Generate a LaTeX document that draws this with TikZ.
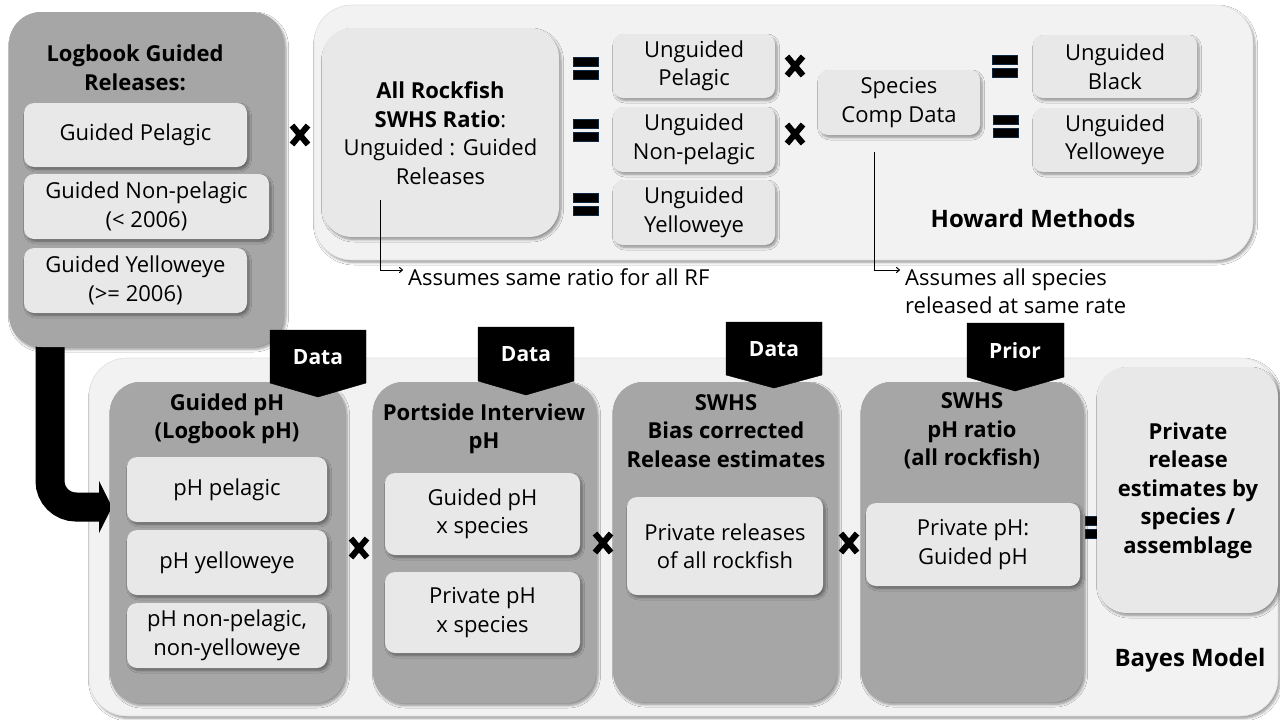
\documentclass[tikz,border=0pt]{standalone}
\usepackage{fontspec}
\setmainfont{Open Sans}
\usetikzlibrary{arrows.meta,shadows.blur}
\definecolor{darkpanel}{HTML}{A6A6A6}
\definecolor{lightpanel}{HTML}{F2F2F2}
\definecolor{lightbox}{HTML}{E8E8E8}
\definecolor{navyedge}{HTML}{0E2841}
\tikzset{
  x=1pt, y=-1pt,
  shd/.style={blur shadow={shadow xshift=2pt, shadow yshift=-2.5pt, shadow blur steps=6, shadow opacity=40, shadow blur radius=2.5pt}},
  panel/.style={fill=lightpanel, draw=black!12, line width=0.6pt, rounded corners=38pt, shd},
  dpanel/.style={fill=darkpanel, rounded corners=32pt, shd},
  lbox/.style={fill=lightbox, rounded corners=10pt, shd, align=center, inner sep=0pt, font=\txt},
  bigbox/.style={fill=lightbox, rounded corners=30pt, shd, align=center, inner sep=0pt},
  ttl/.style={align=center, inner sep=0pt, font=\bfseries\ttltxt},
  note/.style={align=left, inner sep=0pt, anchor=west, font=\txt},
  tab/.style={fill=black, draw=black},
  tabtxt/.style={text=white, font=\bfseries\tabfont, inner sep=0pt},
  conn/.style={draw=black, line width=1pt, -{To[length=4pt,width=6pt]}},
  bigarrow/.style={draw=black, line width=29pt, rounded corners=26pt, -{Triangle[width=52pt,length=13pt]}},
}
\newcommand{\txt}{\fontsize{22}{28.5}\selectfont}
\newcommand{\ttltxt}{\fontsize{22}{28.5}\selectfont}
\newcommand{\tabfont}{\fontsize{21}{28.5}\selectfont}
\newcommand{\lbltxt}{\fontsize{24}{28.5}\selectfont}
\newcommand{\timesmark}[2]{%
  \node[inner sep=0pt, minimum size=20pt] (#2) at (#1) {};
  \draw[line width=6pt, line cap=butt] ([shift={(-8pt,-9.5pt)}]#2.center) -- ([shift={(8pt,9.5pt)}]#2.center);
  \draw[line width=6pt, line cap=butt] ([shift={(-8pt,9.5pt)}]#2.center) -- ([shift={(8pt,-9.5pt)}]#2.center);}
\newcommand{\eqmark}[2]{%
  \node[inner sep=0pt, minimum width=26pt, minimum height=23pt] (#2) at (#1) {};
  \filldraw[fill=black, draw=navyedge, line width=1pt] ([shift={(-12.5pt,-11pt)}]#2.center) rectangle ([shift={(12.5pt,-2pt)}]#2.center);
  \filldraw[fill=black, draw=navyedge, line width=1pt] ([shift={(-12.5pt,2pt)}]#2.center) rectangle ([shift={(12.5pt,11pt)}]#2.center);}
\begin{document}
\begin{tikzpicture}
\useasboundingbox[fill=white] (0,0) rectangle (1280,720);

% ---------- Howard panel ----------
\node[panel, minimum width=939pt, minimum height=255pt] (howard) at (783.5,132.5) {};
\node[font=\bfseries\lbltxt, inner sep=0pt] (howardlbl) at (1033,218) {Howard Methods};

% ---------- Bayes panel ----------
\node[panel, minimum width=1189pt, minimum height=358pt] (bayes) at (683.5,537) {};
\node[font=\bfseries\lbltxt, inner sep=0pt] (bayeslbl) at (1190,660) {Bayes Model};

% ---------- big elbow arrow ----------
\coordinate (a0) at (50,320);
\coordinate (a1) at (112,507);
\draw[bigarrow] (a0) |- (a1);

% ---------- Logbook panel ----------
\node[dpanel, minimum width=275pt, minimum height=335pt] (logbook) at (146.5,179.5) {};
\node[ttl] (logttl) at (135,68) {Logbook Guided\\Releases:};
\node[lbox, minimum width=223pt, minimum height=64pt] (gpel) at (135.5,135) {Guided Pelagic};
\node[lbox, minimum width=245pt, minimum height=65pt] (gnonpel) at (146.5,206.5) {Guided Non-pelagic\\(< 2006)};
\node[lbox, minimum width=223pt, minimum height=65pt] (gye) at (135.5,280.5) {Guided Yelloweye\\(>= 2006)};
\timesmark{300,135}{x0}

% ---------- Howard contents ----------
\node[bigbox, minimum width=237pt, minimum height=209pt] (rock) at (440.5,132.5) {};
\node[align=center, inner sep=0pt, font=\txt] (rocktxt) at (440.5,133) {\textbf{All Rockfish}\\\textbf{SWHS Ratio}:\\Unguided : Guided\\Releases};
\eqmark{586,68}{e1}
\eqmark{586,130}{e2}
\eqmark{586,204}{e3}
\node[lbox, minimum width=162pt, minimum height=64pt] (upel) at (694,66) {Unguided\\Pelagic};
\node[lbox, minimum width=162pt, minimum height=65pt] (unonpel) at (694,139.5) {Unguided\\Non-pelagic};
\node[lbox, minimum width=162pt, minimum height=65pt] (uye) at (694,212.5) {Unguided\\Yelloweye};
\timesmark{795,66}{x1}
\timesmark{795,134}{x2}
\node[lbox, minimum width=162pt, minimum height=65pt] (spcomp) at (899,102.5) {Species\\Comp Data};
\eqmark{1005,66}{e4}
\eqmark{1006,126}{e5}
\node[lbox, minimum width=164pt, minimum height=63pt] (ublack) at (1115,66.5) {Unguided\\Black};
\node[lbox, minimum width=164pt, minimum height=64pt] (uye2) at (1115,140) {Unguided\\Yelloweye};

% notes
\coordinate (c1) at (380,200);
\node[note] (note1) at (408,277) {Assumes same ratio for all RF};
\draw[conn] (c1) |- ([xshift=-5pt,yshift=7pt]note1.west);
\coordinate (c2) at (874,152);
\node[note] (note2) at (905,291) {Assumes all species\\released at same rate};
\draw[conn] (c2) |- ([xshift=-5pt,yshift=21pt]note2.west);

% ---------- Bayes columns ----------
\node[dpanel, rounded corners=30pt, minimum width=235pt, minimum height=321pt] (col1) at (227.5,542.5) {};
\node[dpanel, rounded corners=30pt, minimum width=223pt, minimum height=321pt] (col2) at (484.5,542.5) {};
\node[dpanel, rounded corners=30pt, minimum width=224pt, minimum height=320pt] (col3) at (725,542) {};
\node[dpanel, rounded corners=30pt, minimum width=222pt, minimum height=320pt] (col4) at (972,542) {};

\node[ttl] (t1) at (227,419) {Guided pH\\(Logbook pH)};
\node[lbox, minimum width=200pt, minimum height=65pt] (phpel) at (227,489.5) {pH pelagic};
\node[lbox, minimum width=200pt, minimum height=65pt] (phye) at (227,562.5) {pH yelloweye};
\node[lbox, minimum width=200pt, minimum height=65pt] (phnp) at (227,635.5) {pH non-pelagic,\\non-yelloweye};
\timesmark{359,548}{x3}

\node[ttl] (t2) at (484,429) {Portside Interview\\pH};
\node[lbox, minimum width=195pt, minimum height=82pt] (gphs) at (482.5,514) {Guided pH\\x species};
\node[lbox, minimum width=195pt, minimum height=81pt] (pphs) at (482.5,612.5) {Private pH\\x species};
\timesmark{603,543}{x4}

\node[ttl] (t3) at (726,431) {SWHS\\Bias corrected\\Release estimates};
\node[lbox, minimum width=196pt, minimum height=98pt] (prel) at (725,546) {Private releases\\of all rockfish};
\timesmark{849,543}{x5}

\node[ttl] (t4) at (972,431) {SWHS\\pH ratio\\(all rockfish)};
\node[lbox, minimum width=214pt, minimum height=83pt] (pph) at (973,544.5) {Private pH:\\Guided pH};
\eqmark{1098,527}{e6}

\node[bigbox, minimum width=181pt, minimum height=246pt] (result) at (1187.5,490) {};
\node[ttl] (resulttxt) at (1188,490.5) {Private\\release\\estimates by\\species /\\assemblage};

% ---------- tabs ----------
\filldraw[tab] (270,330) -- (366,330) -- (366,383) -- (318,397) -- (270,383) -- cycle;
\node[tabtxt] (tab1) at (318,357) {Data};
\filldraw[tab] (478,327) -- (574,327) -- (574,381) -- (526,395) -- (478,381) -- cycle;
\node[tabtxt] (tab2) at (526,354) {Data};
\filldraw[tab] (726,322) -- (822,322) -- (822,375) -- (774,388) -- (726,375) -- cycle;
\node[tabtxt] (tab3) at (774,349) {Data};
\filldraw[tab] (967,323) -- (1064,323) -- (1064,377) -- (1015,391) -- (967,377) -- cycle;
\node[tabtxt] (tab4) at (1015,351) {Prior};
\end{tikzpicture}
\end{document}
